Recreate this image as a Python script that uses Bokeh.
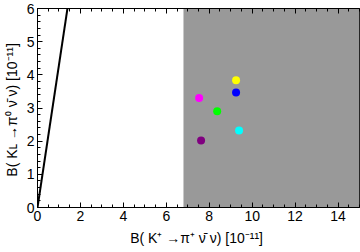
from bokeh.plotting import figure
from bokeh.models import Range1d, LinearAxis, SingleIntervalTicker, CustomJSTickFormatter
from bokeh.embed import file_html
from bokeh.resources import INLINE

# Data
pt_x = [9.25, 9.25, 7.53, 8.37, 9.39, 7.62]
pt_y = [3.84, 3.47, 3.30, 2.90, 2.32, 2.02]
pt_colors = ["#ffff00", "#0000ff", "#ff00ff", "#00ff00", "#00ffff", "#800080"]

bound_x = [0.0, 1.5]
bound_y = [0.0, 6.45]

excl_left = [6.8]
excl_right = [15.0]
excl_bottom = [0.0]
excl_top = [6.0]

x_ticks = [0, 2, 4, 6, 8, 10, 12, 14]
y_ticks = [0, 1, 2, 3, 4, 5, 6]

FONT = "Liberation Sans"

p = figure(width=360, height=252, output_backend="svg", toolbar_location=None,
           x_range=Range1d(0, 15), y_range=Range1d(0, 6),
           min_border_left=37, min_border_right=1, min_border_top=8, min_border_bottom=45)
p.xgrid.visible = False
p.ygrid.visible = False
p.outline_line_color = "black"
p.outline_line_width = 1
p.background_fill_color = "white"

p.quad(left=excl_left, right=excl_right, bottom=excl_bottom, top=excl_top,
       fill_color="#999999", line_color=None)
p.line(bound_x, bound_y, line_color="black", line_width=2)
p.scatter(pt_x, pt_y, size=8, fill_color=pt_colors, line_color=None)

def style(ax, ticks, minor):
    ax.ticker = SingleIntervalTicker(interval=ticks[1] - ticks[0], num_minor_ticks=minor)
    ax.major_tick_in = 5
    ax.major_tick_out = 0
    ax.minor_tick_in = 3
    ax.minor_tick_out = 0
    ax.axis_line_color = "black"
    ax.major_label_text_font = FONT
    ax.major_label_text_font_size = "14px"
    ax.major_label_text_color = "black"
    ax.axis_label_text_font = FONT
    ax.axis_label_text_font_size = "14px"
    ax.axis_label_text_font_style = "normal"
    ax.axis_label_text_color = "black"

style(p.xaxis[0], x_ticks, 4)
style(p.yaxis[0], y_ticks, 5)
p.xaxis[0].major_label_standoff = 3
p.yaxis[0].major_label_standoff = 3
p.xaxis[0].axis_label = "B( K\u207a \u2192\u03c0\u207a \u03bd\u0304 \u03bd)  [10\u207b\u00b9\u00b9]"
p.yaxis[0].axis_label = "B( K\u029f \u2192\u03c0\u2070 \u03bd\u0304 \u03bd)  [10\u207b\u00b9\u00b9]"
p.xaxis[0].axis_label_standoff = 6
p.yaxis[0].axis_label_standoff = 4

blank = CustomJSTickFormatter(code="return '';")

top_ax = LinearAxis(formatter=blank)
style(top_ax, x_ticks, 4)
top_ax.major_label_standoff = 0
p.add_layout(top_ax, "above")

open("out.html", "w").write(file_html(p, INLINE))
